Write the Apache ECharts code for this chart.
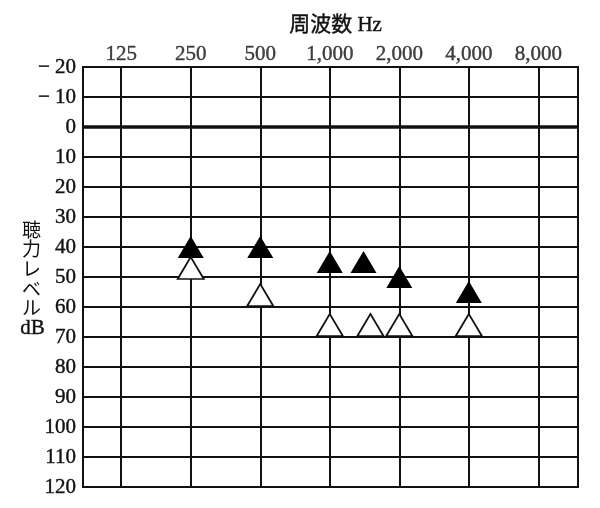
<!DOCTYPE html>
<html>
<head>
<meta charset="utf-8">
<script src="https://cdn.jsdelivr.net/npm/echarts@6/dist/echarts.min.js"></script>
<style>html,body{margin:0;padding:0;background:#fff}#c{width:600px;height:508px}</style>
</head>
<body>
<div id="c"></div>
<script>
// Frequencies (Hz) with grid lines and top tick labels
const freqs = [125, 250, 500, 1000, 2000, 4000, 8000];
const freqLabels = ['125', '250', '500', '1,000', '2,000', '4,000', '8,000'];
// Filled triangles (black)
const filledFreq = [250, 500, 1000, 1400, 2000, 4000];
const filledDb = [40, 40, 45, 45, 50, 55];
// Open triangles (white)
const openFreq = [250, 500, 1000, 1500, 2000, 4000];
const openDb = [47, 56, 66, 66, 66, 66];
// Y axis
const yMin = -20, yMax = 120, yStep = 10;
const xMin = 85.4, xMax = 11880;

const serif = '"Liberation Serif", "DejaVu Serif", "Noto Sans CJK JP", serif';
const thick = { textBorderColor: '#111', textBorderWidth: 0.4 };
const chart = echarts.init(document.getElementById('c'));
chart.setOption({
  animation: false,
  backgroundColor: '#fff',
  grid: { left: 83, right: 22, top: 67, bottom: 21, show: true, borderColor: '#111', borderWidth: 2, backgroundColor: 'transparent' },
  xAxis: {
    type: 'log', logBase: 2, min: xMin, max: xMax, position: 'top',
    axisLine: { show: false }, axisTick: { show: false }, axisLabel: { show: false }, splitLine: { show: false }
  },
  yAxis: {
    type: 'value', inverse: true, min: yMin, max: yMax, interval: yStep,
    axisLine: { show: false }, axisTick: { show: false },
    axisLabel: Object.assign({
      margin: 7, color: '#111', fontFamily: serif, fontSize: 21,
      formatter: v => v < 0 ? '\u2212 ' + Math.abs(v) : String(v)
    }, thick),
    splitLine: { show: true, lineStyle: { color: '#111', width: 1.8 } }
  },
  graphic: [
    { type: 'text', left: 289, top: 15, style: { text: '周波数 Hz', fontFamily: serif, fontSize: 21, fill: '#111', stroke: '#111', lineWidth: 0.4 } },
    { type: 'text', left: 22, top: 222, style: { text: '聴\n力\nレ\nベ\nル', fontFamily: serif, fontSize: 19, lineHeight: 19.6, fill: '#111' } },
    { type: 'text', left: 20, top: 318, style: { text: 'dB', fontFamily: serif, fontSize: 21, fill: '#111', stroke: '#111', lineWidth: 0.4 } }
  ],
  series: [
    {
      type: 'scatter', symbolSize: 0, silent: true, z: 1,
      data: freqs.map((f, i) => ({ value: [f, yMin], label: { formatter: freqLabels[i] } })),
      label: Object.assign({ show: true, position: 'top', distance: 2, color: '#111', fontFamily: serif, fontSize: 21 }, thick),
      markLine: {
        silent: true, symbol: 'none', label: { show: false },
        data: freqs.map(f => ({ xAxis: f, lineStyle: { color: '#111', width: 2, type: 'solid' } }))
          .concat([{ yAxis: 0, lineStyle: { color: '#111', width: 3.5, type: 'solid' } }])
      }
    },
    {
      type: 'scatter', z: 5, symbol: 'triangle', symbolSize: [26, 22],
      itemStyle: { color: '#000', opacity: 1 },
      data: filledFreq.map((f, i) => [f, filledDb[i]])
    },
    {
      type: 'scatter', z: 6, symbol: 'triangle', symbolSize: [26, 22],
      itemStyle: { color: '#fff', borderColor: '#111', borderWidth: 1.8, opacity: 1 },
      data: openFreq.map((f, i) => [f, openDb[i]])
    }
  ]
});
</script>
</body>
</html>
